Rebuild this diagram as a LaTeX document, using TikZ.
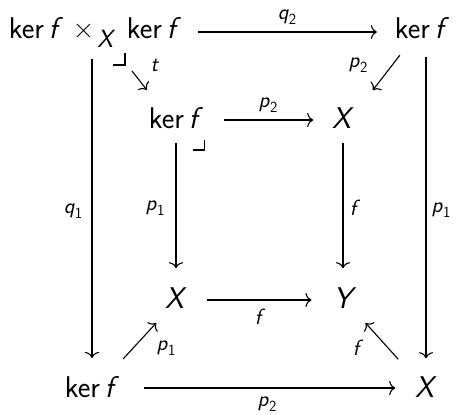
\documentclass[tikz,border=0pt]{standalone}
\usepackage{fontspec}
\usetikzlibrary{arrows.meta,calc}
\newcommand{\kf}{ker\,\textit{f}}
\newcommand{\lsub}[2]{\textit{#1}\raisebox{-0.22em}{\fontsize{15.5}{15.5}\selectfont #2}}
\begin{document}
\begin{tikzpicture}[x=1pt,y=-1pt,
  obj/.style={inner sep=0pt,outer sep=0pt,anchor=base,font=\sffamily\fontsize{30}{36}\selectfont},
  lab/.style={inner sep=0pt,font=\sffamily\fontsize{22}{24}\selectfont},
  arr/.style={line width=1.1pt,-{Computer Modern Rightarrow[length=6pt,width=14pt,line width=1.1pt]}},
  corner/.style={line width=1.1pt}
]
\useasboundingbox (0,0) rectangle (458,415);
% objects
\node[obj] (A) at (95,38) {\kf{} ×\hspace{3pt}\raisebox{-9pt}{\fontsize{25}{25}\selectfont\textit{X}}\hspace{2pt} \kf};
\node[obj] (B) at (422,38) {\kf};
\node[obj] (C) at (176,128) {\kf};
\node[obj] (D) at (343,128) {\textit{X}};
\node[obj] (E) at (176,308) {\textit{X}};
\node[obj] (F) at (345,308) {\textit{Y}};
\node[obj] (G) at (92,397) {\kf};
\node[obj] (H) at (426,397) {\textit{X}};
% horizontal arrows
\draw[arr,shorten <=17pt,shorten >=18pt] ([yshift=6pt]A.base east) -- ([yshift=6pt]B.base west);
\draw[arr,shorten <=21pt,shorten >=19pt] ([yshift=8pt]C.base east) -- ([yshift=8pt]D.base west);
\draw[arr,shorten <=20pt,shorten >=22pt] ([yshift=8pt]E.base east) -- ([yshift=8pt]F.base west);
\draw[arr,shorten <=25pt,shorten >=20pt] ([yshift=9pt]G.base east) -- ([yshift=9pt]H.base west);
% vertical arrows
\draw[arr,shorten <=12pt,shorten >=18pt] (G.north |- A.south) -- (G.north);
\draw[arr,shorten <=19pt,shorten >=18pt] (H |- B.south) -- (H.north);
\draw[arr,shorten <=15pt,shorten >=19pt] (C.south) -- (C.south |- E.north);
\draw[arr,shorten <=15pt,shorten >=19pt] (D.south) -- (D.south |- F.north);
% diagonal arrows
\draw[arr] ($(A.base)+(37,33)$) -- ($(C.north west)+(-2,-17)$);
\draw[arr] ($(B.south west)+(5,17)$) -- ($(D.north east)+(19,-17)$);
\draw[arr] ($(G.north east)+(4,-17)$) -- ($(E.south west)+(-9,15)$);
\draw[arr] ($(H.north west)+(-17,-17)$) -- ($(F.south east)+(9,15)$);
% pullback corners
\draw[corner] ($(A.base)+(18,27)$) -- ($(A.base)+(30,27)$) -- ($(A.base)+(30,15)$);
\draw[corner] ($(C.base east)+(-10,22)$) -- ($(C.base east)+(1,22)$) -- ($(C.base east)+(1,12)$);
% labels
\node[lab] (lq2) at (287,17) {\lsub{q}{2}};
\node[lab] (lp2a) at (268,105) {\lsub{p}{2}};
\node[lab] (lfa) at (260,317) {\textit{f}};
\node[lab] (lp2b) at (267,404) {\lsub{p}{2}};
\node[lab] (lq1) at (73,211) {\lsub{q}{1}};
\node[lab] (lp1a) at (441,210) {\lsub{p}{1}};
\node[lab] (lp1b) at (155,208) {\lsub{p}{1}};
\node[lab] (lfb) at (355,208) {\textit{f}};
\node[lab] (lt) at (155,66) {\textit{t}};
\node[lab] (lp2c) at (358,65) {\lsub{p}{2}};
\node[lab] (lp1c) at (166,348) {\lsub{p}{1}};
\node[lab] (lfc) at (358,348) {\textit{f}};
\end{tikzpicture}
\end{document}
